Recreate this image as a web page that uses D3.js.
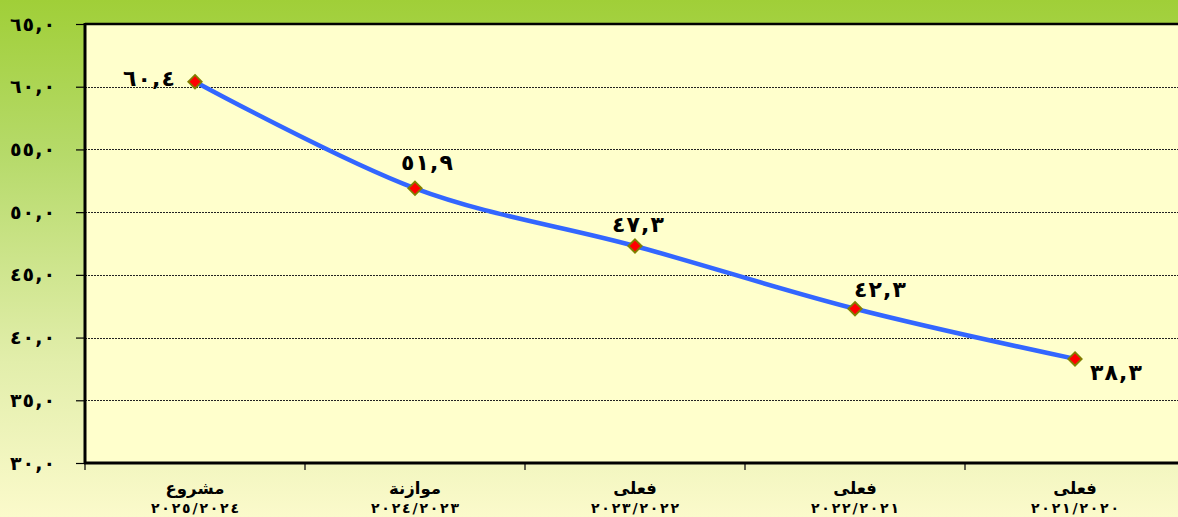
<!DOCTYPE html>
<html>
<head>
<meta charset="utf-8">
<script src="https://cdn.jsdelivr.net/npm/d3@7"></script>
<style>
  html, body { margin: 0; padding: 0; background: #fff; }
  svg { display: block; }
  text { font-family: "DejaVu Sans", sans-serif; font-weight: bold; fill: #000; }
</style>
</head>
<body>
<svg id="chart" width="1178" height="517"></svg>
<script>
// ---- data ----
const categoryTypes = ["مشروع", "موازنة", "فعلى", "فعلى", "فعلى"];
const categoryYears = ["٢٠٢٥/٢٠٢٤", "٢٠٢٤/٢٠٢٣", "٢٠٢٣/٢٠٢٢", "٢٠٢٢/٢٠٢١", "٢٠٢١/٢٠٢٠"];
const values = [60.4, 51.9, 47.3, 42.3, 38.3];
const valueLabels = ["٦٠,٤", "٥١,٩", "٤٧,٣", "٤٢,٣", "٣٨,٣"];
const yTicks = [30, 35, 40, 45, 50, 55, 60, 65];
const yTickLabels = ["٣٠,٠", "٣٥,٠", "٤٠,٠", "٤٥,٠", "٥٠,٠", "٥٥,٠", "٦٠,٠", "٦٥,٠"];

// label placement (style): [dx, dy, anchor]
const labelPlacement = [[-20, -3, "end"], [12, -26, "middle"], [3, -22, "middle"], [25, -19, "middle"], [15, 13, "start"]];

const W = 1178, H = 517;
const plot = { left: 85, top: 24, right: 1185, bottom: 463 };

const svg = d3.select("#chart");
const defs = svg.append("defs");
const grad = defs.append("linearGradient").attr("id", "bg").attr("x1", 0).attr("y1", 0).attr("x2", 0).attr("y2", 1);
grad.append("stop").attr("offset", "0%").attr("stop-color", "#a0cf38");
grad.append("stop").attr("offset", "30%").attr("stop-color", "#b6da6a");
grad.append("stop").attr("offset", "70%").attr("stop-color", "#e2eeab");
grad.append("stop").attr("offset", "100%").attr("stop-color", "#fbfacb");
svg.append("rect").attr("width", W).attr("height", H).attr("fill", "url(#bg)");

const cats = categoryYears.map((d, i) => i);
const x = d3.scaleBand().domain(cats).range([plot.left, plot.right]).padding(0);
const y = d3.scaleLinear().domain([30, 65]).range([plot.bottom, plot.top]);
const cx = i => x(i) + x.bandwidth() / 2;

// plot area
svg.append("rect")
  .attr("x", plot.left).attr("y", plot.top)
  .attr("width", plot.right - plot.left).attr("height", plot.bottom - plot.top)
  .attr("fill", "#ffffcc");

// gridlines
svg.append("g").selectAll("line")
  .data(yTicks.filter(t => t > 30 && t < 65))
  .join("line")
  .attr("x1", plot.left).attr("x2", plot.right)
  .attr("y1", d => Math.round(y(d)) + 0.5).attr("y2", d => Math.round(y(d)) + 0.5)
  .attr("stroke", "#222").attr("stroke-width", 1).attr("stroke-dasharray", "2,1");

// top border
svg.append("line").attr("x1", plot.left).attr("x2", plot.right)
  .attr("y1", plot.top).attr("y2", plot.top).attr("stroke", "#000").attr("stroke-width", 2.5);

// y axis
const yAxis = d3.axisLeft(y).tickValues(yTicks).tickSize(9).tickPadding(20)
  .tickFormat((d, i) => yTickLabels[i]);
const gy = svg.append("g").attr("transform", `translate(${plot.left},0)`).call(yAxis);
gy.select(".domain").remove();
gy.selectAll(".tick line").attr("stroke", "#000").attr("stroke-width", 1.2);
gy.selectAll(".tick text")
  .attr("font-family", null).attr("font-size", null)
  .style("font-size", "19px")
  .attr("x", -30).attr("dy", "0.32em")
  .attr("textLength", 45).attr("lengthAdjust", "spacing");

// x axis ticks at band boundaries
const bounds = cats.map(i => x(i)).concat([plot.right]);
svg.append("g").selectAll("line").data(bounds).join("line")
  .attr("x1", d => d).attr("x2", d => d)
  .attr("y1", plot.bottom).attr("y2", plot.bottom + 7)
  .attr("stroke", "#000").attr("stroke-width", 1.2);

// axis lines
svg.append("line").attr("x1", plot.left).attr("x2", plot.left)
  .attr("y1", plot.top - 1).attr("y2", plot.bottom + 1).attr("stroke", "#000").attr("stroke-width", 3);
svg.append("line").attr("x1", plot.left - 1).attr("x2", plot.right)
  .attr("y1", plot.bottom).attr("y2", plot.bottom).attr("stroke", "#000").attr("stroke-width", 3);

// x labels
const xl = svg.append("g").selectAll("g").data(cats).join("g")
  .attr("transform", i => `translate(${cx(i)},0)`);
xl.append("text").attr("y", 494).attr("text-anchor", "middle")
  .style("font-size", "16.5px").text(i => categoryTypes[i]);
xl.append("text").attr("y", 513).attr("text-anchor", "middle")
  .style("font-size", "14px")
  .attr("textLength", 88).attr("lengthAdjust", "spacing")
  .text(i => categoryYears[i]);

// line
const line = d3.line().x((d, i) => cx(i)).y(d => y(d)).curve(d3.curveCardinal.tension(0));
svg.append("path").datum(values).attr("d", line)
  .attr("fill", "none").attr("stroke", "#3366ff").attr("stroke-width", 4.5)
  .attr("stroke-linejoin", "round");

// markers
const sym = d3.symbol().type(d3.symbolDiamond2).size(115);
svg.append("g").selectAll("path").data(values).join("path")
  .attr("d", sym)
  .attr("transform", (d, i) => `translate(${cx(i)},${y(d)})`)
  .attr("fill", "#ff0000").attr("stroke", "#808000").attr("stroke-width", 1.8);

// value labels
svg.append("g").selectAll("text").data(values).join("text")
  .attr("x", (d, i) => cx(i) + labelPlacement[i][0])
  .attr("y", (d, i) => y(d) + labelPlacement[i][1])
  .attr("dy", "0.35em")
  .attr("text-anchor", (d, i) => labelPlacement[i][2])
  .attr("textLength", 52).attr("lengthAdjust", "spacing")
  .style("font-size", "22px")
  .text((d, i) => valueLabels[i]);
</script>
</body>
</html>
